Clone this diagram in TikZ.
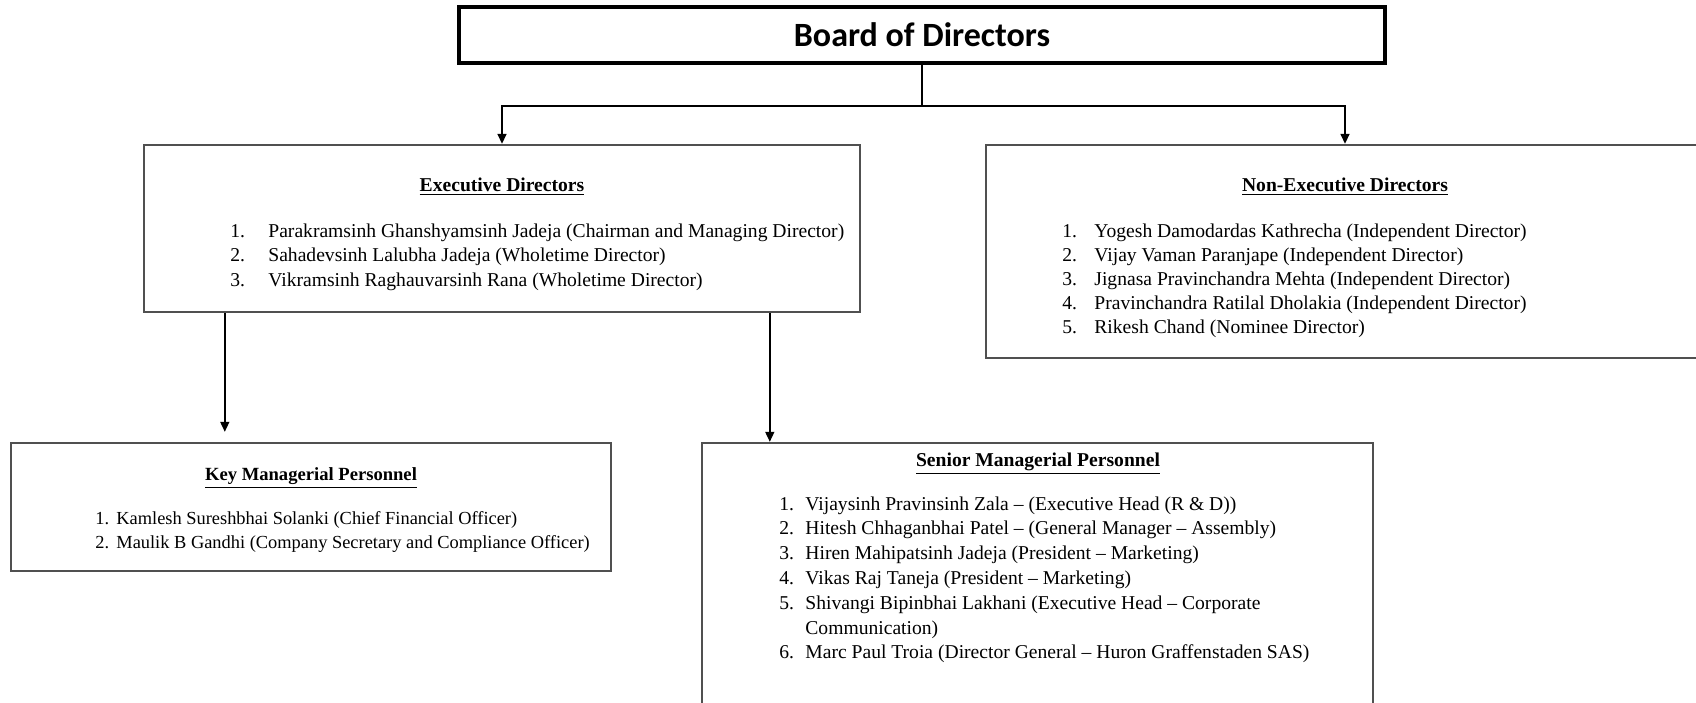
\documentclass[tikz,border=0pt]{standalone}
\usepackage{fontspec}
\setmainfont{Liberation Serif}
\newfontfamily\boardfont{Carlito}
\usetikzlibrary{arrows.meta, positioning, calc}
\definecolor{boxgray}{RGB}{80, 80, 80}

\begin{document}
\begin{tikzpicture}[
    x=0.5pt, y=-0.5pt,
    every node/.style={font=\fontsize{9.8}{12.4}\selectfont},
    boardbox/.style={
        rectangle,
        draw=black,
        line width=1.6pt,
        minimum width=463pt,
        minimum height=28pt,
        font=\boardfont\bfseries\fontsize{17}{20}\selectfont
    },
    groupbox/.style={
        rectangle,
        draw=boxgray,
        line width=1.2pt,
        inner sep=0pt
    },
    heading/.style={
        font=\bfseries\fontsize{9.8}{12.4}\selectfont,
        inner sep=0pt,
        anchor=base
    },
    itemlist/.style={
        inner sep=0pt,
        anchor=base west,
        align=left
    },
    arrow/.style={
        line width=0.8pt,
        -{Triangle[length=5pt, width=4.5pt]},
        draw=black
    }
]
\useasboundingbox (0,0) rectangle (1696,702);

% ==================== BOARD ====================
\node (board) [boardbox] at (922,35) {Board of Directors};
\coordinate (split) at (922,106);

% ==================== DIRECTORS ====================
\node (exec) [groupbox, minimum width=358pt, minimum height=83.5pt] at (502,228.5) {};
\node (exec_title) [heading] at (502,191) {\underline{Executive Directors}};
\node (exec_list) [itemlist] at (230,237) {\begin{tabular}[t]{@{}p{19pt}@{}l@{}}
1. & Parakramsinh Ghanshyamsinh Jadeja (Chairman and Managing Director)\\
2. & Sahadevsinh Lalubha Jadeja (Wholetime Director)\\
3. & Vikramsinh Raghauvarsinh Rana (Wholetime Director)
\end{tabular}};

\node (nonexec) [groupbox, minimum width=359pt, minimum height=106.5pt] at (1345,251.5) {};
\node (nonexec_title) [heading] at (1345,191) {\underline{Non-Executive Directors}};
\node (nonexec_list) [itemlist, font=\fontsize{9.8}{12}\selectfont] at (1062,237) {\begin{tabular}[t]{@{}p{16pt}@{}l@{}}
1. & Yogesh Damodardas Kathrecha (Independent Director)\\
2. & Vijay Vaman Paranjape (Independent Director)\\
3. & Jignasa Pravinchandra Mehta (Independent Director)\\
4. & Pravinchandra Ratilal Dholakia (Independent Director)\\
5. & Rikesh Chand (Nominee Director)
\end{tabular}};

% ==================== PERSONNEL ====================
\node (kmp) [groupbox, minimum width=300pt, minimum height=64pt] at (311,507) {};
\node (kmp_title) [heading, font=\bfseries\fontsize{9.3}{12.4}\selectfont] at (311,480) {\underline{Key Managerial Personnel}};
\node (kmp_list) [itemlist, font=\fontsize{9.2}{12.4}\selectfont] at (95,524) {\begin{tabular}[t]{@{}p{10.5pt}@{}l@{}}
1. & Kamlesh Sureshbhai Solanki (Chief Financial Officer)\\
2. & Maulik B Gandhi (Company Secretary and Compliance Officer)
\end{tabular}};

\node (smp) [groupbox, minimum width=335.5pt, minimum height=134.5pt] at (1037.5,577.5) {};
\node (smp_title) [heading] at (1038,466) {\underline{Senior Managerial Personnel}};
\node (smp_list) [itemlist] at (779,510) {\begin{tabular}[t]{@{}p{13pt}@{}l@{}}
1. & Vijaysinh Pravinsinh Zala -- (Executive Head (R \& D))\\
2. & Hitesh Chhaganbhai Patel -- (General Manager -- Assembly)\\
3. & Hiren Mahipatsinh Jadeja (President -- Marketing)\\
4. & Vikas Raj Taneja (President -- Marketing)\\
5. & Shivangi Bipinbhai Lakhani (Executive Head -- Corporate\\
   & Communication)\\
6. & Marc Paul Troia (Director General -- Huron Graffenstaden SAS)
\end{tabular}};

% Connections
\draw [line width=0.8pt] (board.south) -- (split);
\draw [arrow] (split) -| (exec.north);
\draw [arrow] (split) -| (nonexec.north);
\draw [arrow] ($(exec.south west)+(82,0)$) -- ($(kmp.north west)+(215,-10)$);
\draw [arrow] ($(exec.south west)+(627,0)$) -- ($(smp.north west)+(69,0)$);

\end{tikzpicture}
\end{document}
